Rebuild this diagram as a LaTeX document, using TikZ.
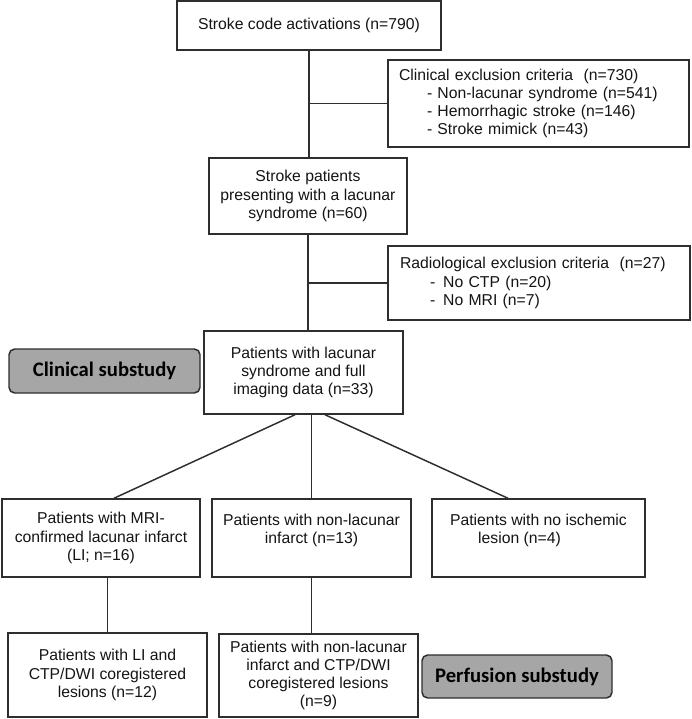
\documentclass[tikz,border=0pt]{standalone}
\usepackage{fontspec}
\setmainfont{Liberation Sans}
\newfontfamily\calfont{Carlito}
\usepackage{xcolor}
\usepackage{tikz}
\usetikzlibrary{positioning}
\definecolor{flowline}{HTML}{2E2E2E}
\definecolor{flowtext}{HTML}{141414}
\definecolor{subgray}{HTML}{A6A6A6}
\newcommand{\flowfont}{\fontsize{11.2}{13}\selectfont}
\newcommand{\subfont}{\calfont\bfseries\fontsize{14.7}{16}\selectfont}

\begin{document}
\begin{tikzpicture}[
  box/.style={draw=flowline, line width=1.05pt, fill=white, align=center, font=\flowfont, text=flowtext, inner sep=0pt},
  excl/.style={box, align=left},
  sub/.style={draw=flowline, line width=1.05pt, fill=subgray, rounded corners=4pt, font=\subfont, text=black, minimum width=4.775cm, minimum height=1.1cm, inner sep=0pt},
  lnk/.style={draw=flowline, line width=1.05pt}
]
  \useasboundingbox (0,0) rectangle (17.3,-17.975);

  % main column
  \node[box, minimum width=6.6cm, minimum height=1.225cm] (start) at (7.725,-0.6375) {Stroke code activations (n=790)};
  \node[excl, inner xsep=0.275cm, text width=6.975cm, minimum height=2.175cm] (clinex) at (13.4625,-2.5875)
    {Clinical exclusion criteria\ \ (n=730)\\
     \hspace*{0.7cm}- Non-lacunar syndrome (n=541)\\
     \hspace*{0.7cm}- Hemorrhagic stroke (n=146)\\
     \hspace*{0.7cm}- Stroke mimick (n=43)};
  \node[box, minimum width=4.95cm, minimum height=1.9cm] (lacunar) at (7.7,-4.9) {Stroke patients\\presenting with a lacunar\\syndrome (n=60)};
  \node[excl, inner xsep=0.3cm, text width=6.95cm, minimum height=1.85cm] (radex) at (13.475,-7.075)
    {Radiological exclusion criteria\ \ (n=27)\\
     \hspace*{0.75cm}-\hspace{0.2cm}No CTP (n=20)\\
     \hspace*{0.75cm}-\hspace{0.2cm}No MRI (n=7)};
  \node[box, minimum width=4.975cm, minimum height=2.075cm] (full) at (7.5875,-9.3125) {Patients with lacunar\\syndrome and full\\imaging data (n=33)};
  \node[sub] (clinsub) at (2.6125,-9.275) {Clinical substudy};

  % imaging groups
  \node[box, minimum width=4.95cm, minimum height=1.95cm] (li) at (2.525,-13.45) {Patients with MRI-\\confirmed lacunar infarct\\(LI; n=16)};
  \node[box, minimum width=4.975cm, minimum height=1.95cm] (nonlac) at (7.7875,-13.45) {Patients with non-lacunar\\infarct (n=13)\\~};
  \node[box, minimum width=5.325cm, minimum height=1.95cm] (noisch) at (13.4625,-13.45) {Patients with no ischemic\\\hspace*{-0.95cm}lesion (n=4)\\~};

  % perfusion
  \node[box, minimum width=4.975cm, minimum height=2.1cm] (licoreg) at (2.6875,-16.875) {Patients with LI and\\CTP/DWI coregistered\\lesions (n=12)};
  \node[box, minimum width=4.975cm, minimum height=2.075cm] (nlcoreg) at (7.9625,-16.8875) {Patients with non-lacunar\\infarct and CTP/DWI\\coregistered lesions\\(n=9)};
  \node[sub, minimum width=4.75cm, minimum height=1.075cm] (perfsub) at (12.925,-16.9125) {Perfusion substudy};

  \draw[lnk] (start.south) -- (start.south |- lacunar.north);
  \draw[lnk] (start.south |- clinex.west) -- (clinex.west);
  \draw[lnk] (lacunar.south) -- (lacunar.south |- full.north);
  \draw[lnk] (lacunar.south |- radex.west) -- (radex.west);
  \draw[lnk] ([xshift=-0.2125cm]full.south) -- ([xshift=0.325cm]li.north);
  \draw[lnk] (nonlac.north |- full.south) -- (nonlac.north);
  \draw[lnk] ([xshift=0.5375cm]full.south) -- ([xshift=-0.7625cm]noisch.north);
  \draw[lnk] (licoreg.north |- li.south) -- (licoreg.north);
  \draw[lnk] (nonlac.south) -- (nonlac.south |- nlcoreg.north);
\end{tikzpicture}
\end{document}
